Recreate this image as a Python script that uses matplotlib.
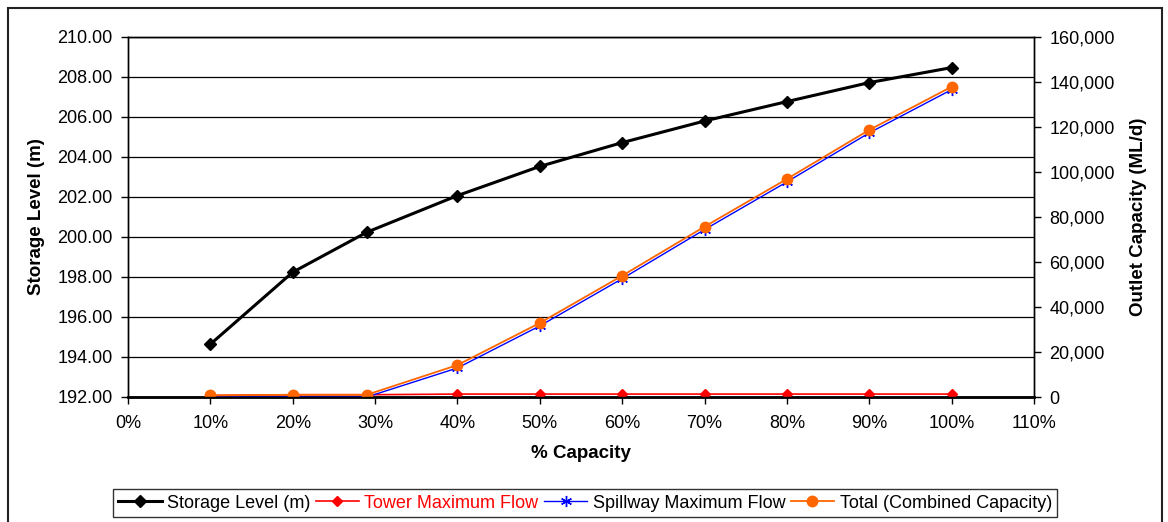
import numpy as np
import matplotlib as mpl
mpl.use('Agg')
import matplotlib.pyplot as plt
from matplotlib.ticker import FuncFormatter, MultipleLocator
from matplotlib.patches import Rectangle

# % capacity (third point sits a little short of 30%)
capacity = [0.10, 0.20, 0.29, 0.40, 0.50, 0.60, 0.70, 0.80, 0.90, 1.00]
storage_level = [194.64, 198.24, 200.24, 202.07, 203.53, 204.72, 205.80, 206.77, 207.72, 208.47]
tower_flow = [700, 1000, 1000, 1300, 1300, 1300, 1300, 1300, 1300, 1300]
spillway_flow = [0, 0, 0, 12900, 31600, 52600, 74400, 95600, 117400, 136600]
total_flow = [700, 1000, 1000, 14200, 32900, 53900, 75700, 96900, 118700, 137900]

x_ticks = np.arange(0, 1.11, 0.1)

plt.rcParams['font.family'] = ['Liberation Sans', 'DejaVu Sans']
fs = 13
lfs = 13.5

fig = plt.figure(figsize=(11.68, 5.22), dpi=100)
ax = fig.add_axes([128/1168, 1 - 397/522, (1034 - 128)/1168, 360/522])
ax2 = ax.twinx()

# outer chart border
fig.patches.append(Rectangle((8/1168, -0.05), (1162 - 8)/1168, 1.05 - 8/522,
                             transform=fig.transFigure, fill=False,
                             edgecolor='#222222', lw=1.5))

l1, = ax.plot(capacity, storage_level, color='black', lw=2.2, marker='D',
              markersize=6, label='Storage Level (m)', zorder=3)
l2, = ax2.plot(capacity, tower_flow, color='#FF0000', lw=1.2, marker='D',
               markersize=5.5, label='Tower Maximum Flow')
l3, = ax2.plot(capacity, spillway_flow, color='#0000FF', lw=1.0, marker=(6, 2, 0),
               markersize=8, markeredgewidth=1.0, label='Spillway Maximum Flow')
l4, = ax2.plot(capacity, total_flow, color='#FF6600', lw=1.3, marker='o',
               markersize=7.5, label='Total (Combined Capacity)')

ax.set_xlim(0, 1.1)
ax.set_ylim(192, 210)
ax2.set_ylim(0, 160000)
ax.set_xticks(x_ticks)
ax.xaxis.set_major_formatter(FuncFormatter(lambda v, p: '{:.0f}%'.format(v * 100)))
ax.yaxis.set_major_locator(MultipleLocator(2))
ax.yaxis.set_major_formatter(FuncFormatter(lambda v, p: '{:.2f}'.format(v)))
ax2.yaxis.set_major_locator(MultipleLocator(20000))
ax2.yaxis.set_major_formatter(FuncFormatter(lambda v, p: '{:,.0f}'.format(v)))

ax.grid(axis='y', color='black', lw=0.9)
ax.set_axisbelow(True)

for a in (ax, ax2):
    a.tick_params(labelsize=fs, direction='out', length=5, width=1, colors='black', pad=6)
    for s in a.spines.values():
        s.set_color('black')
        s.set_linewidth(1)
ax.spines['bottom'].set_linewidth(2)
ax.tick_params(axis='x', pad=8)

ax.set_ylabel('Storage Level (m)', fontsize=lfs, fontweight='bold', labelpad=9)
ax2.set_ylabel('Outlet Capacity (ML/d)', fontsize=lfs, fontweight='bold', labelpad=11)
ax.set_xlabel('% Capacity', fontsize=lfs, fontweight='bold', labelpad=9)

leg = fig.legend(handles=[l1, l2, l3, l4], loc='center', bbox_to_anchor=(585/1168, 1 - 503/522),
                 ncol=4, fontsize=fs, frameon=True, fancybox=False, edgecolor='black',
                 handlelength=2.4, handletextpad=0.3, columnspacing=0.3, borderpad=0.3)
leg.get_frame().set_linewidth(1)
leg.get_texts()[1].set_color('#FF0000')

fig.savefig('out.png', dpi=100)
